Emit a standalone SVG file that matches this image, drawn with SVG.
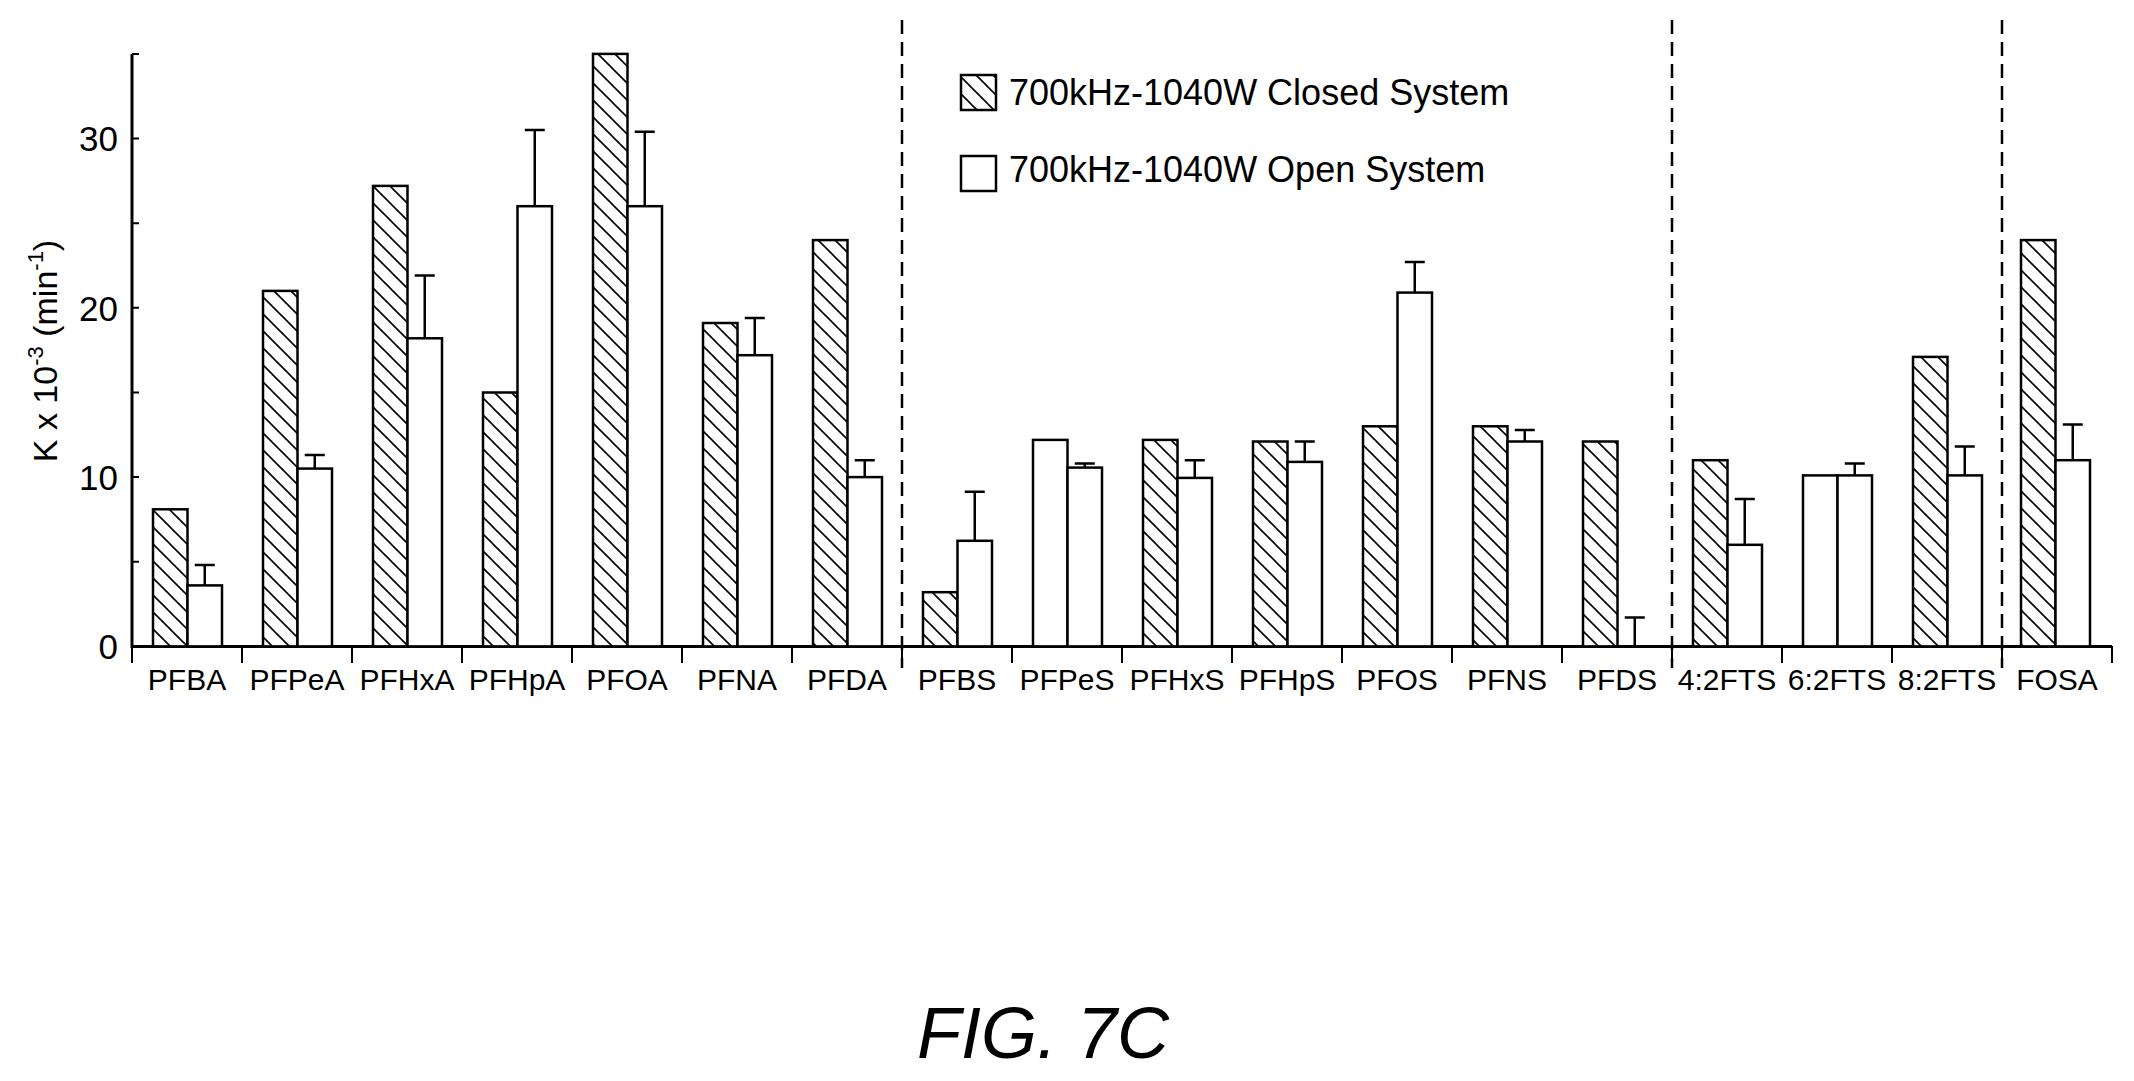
<svg xmlns="http://www.w3.org/2000/svg" width="2134" height="1081" viewBox="0 0 2134 1081">
<style>
text{font-family:"Liberation Sans",Arial,sans-serif;fill:#000}
.c{fill:url(#hatch);stroke:#000;stroke-width:2.5}
.o{fill:#fff;stroke:#000;stroke-width:2.5}
.e{stroke:#000;stroke-width:2.5;fill:none}
.lab{font-size:30px;text-anchor:middle}
.yl{font-size:35px;text-anchor:end}
.ax{stroke:#000;stroke-width:3;fill:none}
.tk{stroke:#000;stroke-width:2;fill:none}
.dash{stroke:#000;stroke-width:2.5;stroke-dasharray:14 8;fill:none}
</style>
<defs>
<pattern id="hatch" patternUnits="userSpaceOnUse" width="17" height="17">
<rect width="17" height="17" fill="#fff"/>
<path d="M-2,-2 L19,19 M-2,15 L2,19 M15,-2 L19,2" stroke="#000" stroke-width="1.6"/>
</pattern>
</defs>
<rect width="2134" height="1081" fill="#fff"/>
<g id="axes">
<path class="ax" d="M132,54 V646.4 H2112"/>
<path class="tk" d="M132,54 h7 M132,138.5 h7 M132,223.2 h7 M132,307.8 h7 M132,392.5 h7 M132,477.1 h7 M132,561.8 h7"/>
<path class="tk" d="M132,646 v17 M242,646 v17 M352,646 v17 M462,646 v17 M572,646 v17 M682,646 v17 M792,646 v17 M902,646 v17 M1012,646 v17 M1122,646 v17 M1232,646 v17 M1342,646 v17 M1452,646 v17 M1562,646 v17 M1672,646 v17 M1782,646 v17 M1892,646 v17 M2002,646 v17 M2112,646 v17"/>
<text class="yl" x="118" y="659">0</text>
<text class="yl" x="118" y="490">10</text>
<text class="yl" x="118" y="321">20</text>
<text class="yl" x="118" y="151">30</text>
<text font-size="34" text-anchor="middle" transform="translate(57,351) rotate(-90)">K x 10<tspan font-size="22" dy="-14">-3</tspan><tspan dy="14"> (min</tspan><tspan font-size="22" dy="-14">-1</tspan><tspan dy="14">)</tspan></text>
</g>
<g id="separators">
<path class="dash" d="M902,20 V668 M1672,20 V668 M2002,20 V668"/>
</g>
<g id="legend">
<rect class="c" x="961" y="75" width="35" height="35"/>
<rect class="o" x="961" y="156" width="35" height="35"/>
<text x="1009" y="105" font-size="36">700kHz-1040W Closed System</text>
<text x="1009" y="182" font-size="36">700kHz-1040W Open System</text>
</g>
<g id="PFBA"><rect class="c" x="153" y="509.3" width="34.5" height="137.1"/><rect class="o" x="187.5" y="585.4" width="34.5" height="61"/><path class="e" d="M204.75,585.4 V565.1 M194.75,565.1 h20"/><text class="lab" x="187" y="690">PFBA</text></g>
<g id="PFPeA"><rect class="c" x="263" y="290.9" width="34.5" height="355.5"/><rect class="o" x="297.5" y="468.6" width="34.5" height="177.8"/><path class="e" d="M314.75,468.6 V455.1 M304.75,455.1 h20"/><text class="lab" x="297" y="690">PFPeA</text></g>
<g id="PFHxA"><rect class="c" x="373" y="185.9" width="34.5" height="460.5"/><rect class="o" x="407.5" y="338.3" width="34.5" height="308.1"/><path class="e" d="M424.75,338.3 V275.6 M414.75,275.6 h20"/><text class="lab" x="407" y="690">PFHxA</text></g>
<g id="PFHpA"><rect class="c" x="483" y="392.5" width="34.5" height="253.9"/><rect class="o" x="517.5" y="206.2" width="34.5" height="440.2"/><path class="e" d="M534.75,206.2 V130 M524.75,130 h20"/><text class="lab" x="517" y="690">PFHpA</text></g>
<g id="PFOA"><rect class="c" x="593" y="53.9" width="34.5" height="592.5"/><rect class="o" x="627.5" y="206.2" width="34.5" height="440.2"/><path class="e" d="M644.75,206.2 V131.7 M634.75,131.7 h20"/><text class="lab" x="627" y="690">PFOA</text></g>
<g id="PFNA"><rect class="c" x="703" y="323" width="34.5" height="323.4"/><rect class="o" x="737.5" y="355.2" width="34.5" height="291.2"/><path class="e" d="M754.75,355.2 V317.9 M744.75,317.9 h20"/><text class="lab" x="737" y="690">PFNA</text></g>
<g id="PFDA"><rect class="c" x="813" y="240.1" width="34.5" height="406.3"/><rect class="o" x="847.5" y="477.1" width="34.5" height="169.3"/><path class="e" d="M864.75,477.1 V460.2 M854.75,460.2 h20"/><text class="lab" x="847" y="690">PFDA</text></g>
<g id="PFBS"><rect class="c" x="923" y="592.2" width="34.5" height="54.2"/><rect class="o" x="957.5" y="540.8" width="34.5" height="105.6"/><path class="e" d="M974.75,540.8 V491.7 M964.75,491.7 h20"/><text class="lab" x="957" y="690">PFBS</text></g>
<g id="PFPeS"><rect class="o" x="1033" y="439.9" width="34.5" height="206.5"/><rect class="o" x="1067.5" y="467.6" width="34.5" height="178.8"/><path class="e" d="M1084.75,467.6 V463.6 M1074.75,463.6 h20"/><text class="lab" x="1067" y="690">PFPeS</text></g>
<g id="PFHxS"><rect class="c" x="1143" y="439.9" width="34.5" height="206.5"/><rect class="o" x="1177.5" y="477.9" width="34.5" height="168.5"/><path class="e" d="M1194.75,477.9 V460.2 M1184.75,460.2 h20"/><text class="lab" x="1177" y="690">PFHxS</text></g>
<g id="PFHpS"><rect class="c" x="1253" y="441.5" width="34.5" height="204.9"/><rect class="o" x="1287.5" y="461.9" width="34.5" height="184.5"/><path class="e" d="M1304.75,461.9 V441.5 M1294.75,441.5 h20"/><text class="lab" x="1287" y="690">PFHpS</text></g>
<g id="PFOS"><rect class="c" x="1363" y="426.3" width="34.5" height="220.1"/><rect class="o" x="1397.5" y="292.6" width="34.5" height="353.8"/><path class="e" d="M1414.75,292.6 V262.1 M1404.75,262.1 h20"/><text class="lab" x="1397" y="690">PFOS</text></g>
<g id="PFNS"><rect class="c" x="1473" y="426.3" width="34.5" height="220.1"/><rect class="o" x="1507.5" y="441.5" width="34.5" height="204.9"/><path class="e" d="M1524.75,441.5 V430 M1514.75,430 h20"/><text class="lab" x="1507" y="690">PFNS</text></g>
<g id="PFDS"><rect class="c" x="1583" y="441.5" width="34.5" height="204.9"/><path class="e" d="M1634.75,646.4 V617.6 M1624.75,617.6 h20"/><text class="lab" x="1617" y="690">PFDS</text></g>
<g id="FTS42"><rect class="c" x="1693" y="460.2" width="34.5" height="186.2"/><rect class="o" x="1727.5" y="544.8" width="34.5" height="101.6"/><path class="e" d="M1744.75,544.8 V499.1 M1734.75,499.1 h20"/><text class="lab" x="1727" y="690">4:2FTS</text></g>
<g id="FTS62"><rect class="o" x="1803" y="475.4" width="34.5" height="171"/><rect class="o" x="1837.5" y="475.4" width="34.5" height="171"/><path class="e" d="M1854.75,475.4 V463.6 M1844.75,463.6 h20"/><text class="lab" x="1837" y="690">6:2FTS</text></g>
<g id="FTS82"><rect class="c" x="1913" y="356.9" width="34.5" height="289.5"/><rect class="o" x="1947.5" y="475.4" width="34.5" height="171"/><path class="e" d="M1964.75,475.4 V446.6 M1954.75,446.6 h20"/><text class="lab" x="1947" y="690">8:2FTS</text></g>
<g id="FOSA"><rect class="c" x="2021" y="240.1" width="34.5" height="406.3"/><rect class="o" x="2055.5" y="460.2" width="34.5" height="186.2"/><path class="e" d="M2072.75,460.2 V424.6 M2062.75,424.6 h20"/><text class="lab" x="2057" y="690">FOSA</text></g>
<text x="1043" y="1058" font-family="'Open Sans',sans-serif" font-style="italic" font-size="72" text-anchor="middle">FIG. 7C</text>
</svg>
